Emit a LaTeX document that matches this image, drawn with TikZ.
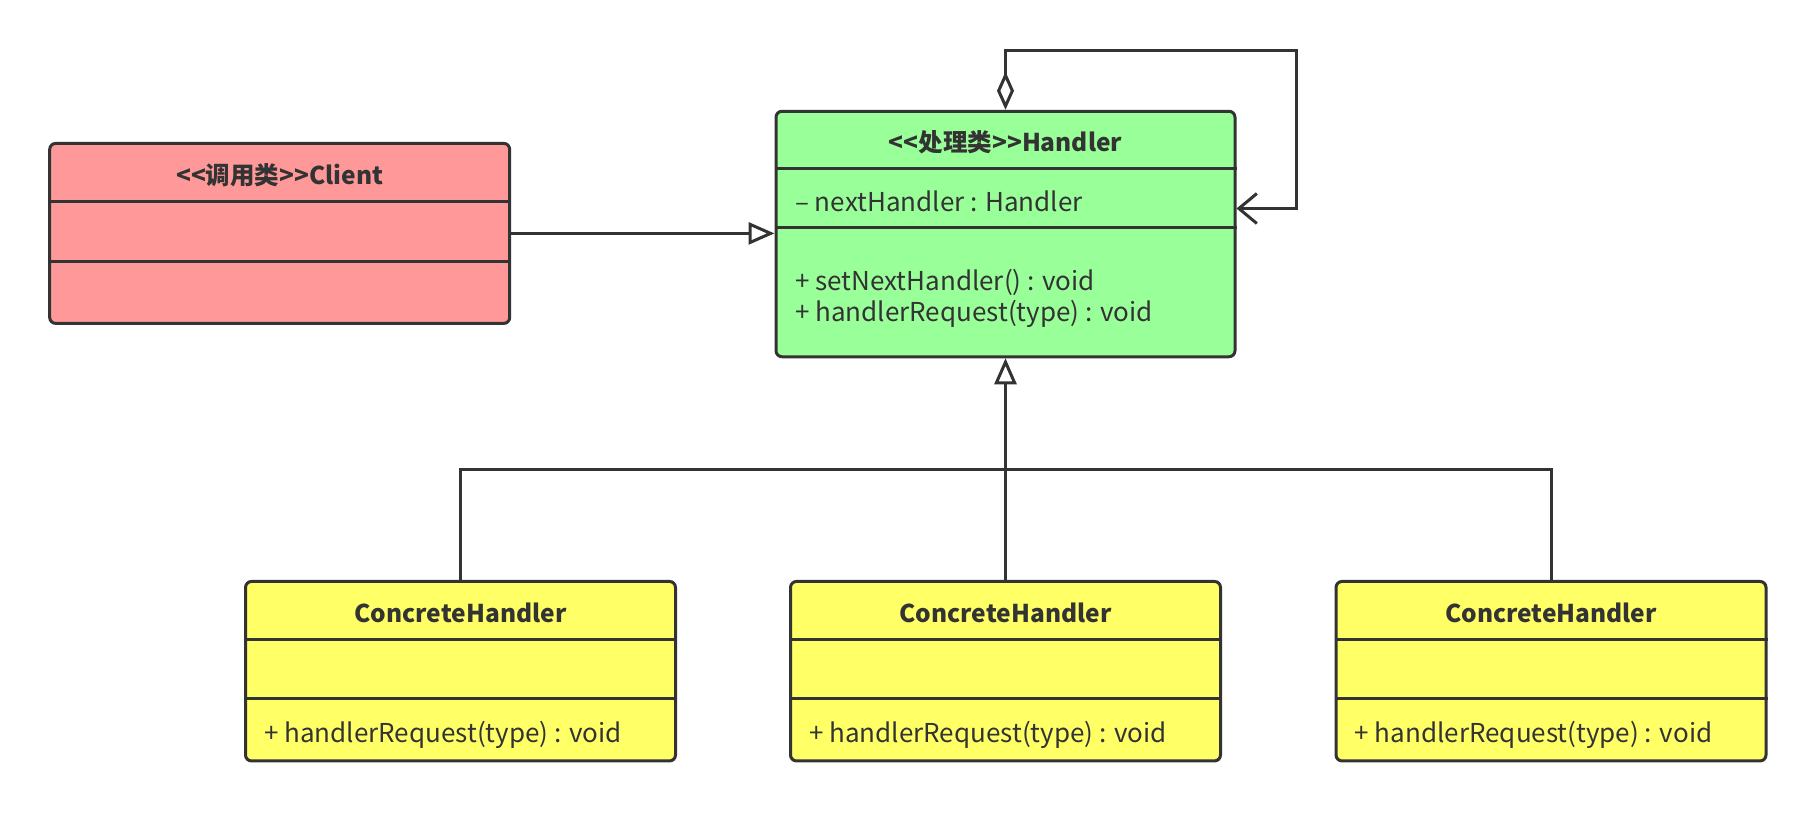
\documentclass[tikz,border=0pt]{standalone}
\usepackage{fontspec}
\setmainfont{Noto Sans CJK SC}
\usetikzlibrary{arrows.meta}
\definecolor{ink}{HTML}{333333}
\definecolor{clientfill}{HTML}{FF9999}
\definecolor{handlerfill}{HTML}{99FF99}
\definecolor{concretefill}{HTML}{FFFF66}
\begin{document}
\begin{tikzpicture}[x=1pt,y=-1pt,
  umlbox/.style={draw=ink, line width=3pt, rounded corners=6pt, inner sep=0pt, rectangle},
  divider/.style={draw=ink, line width=3pt},
  titletext/.style={font=\fontsize{24.5}{29}\selectfont\bfseries, text=ink, inner sep=0pt, anchor=base},
  member/.style={font=\fontsize{26}{31}\selectfont, text=ink, anchor=base west, inner sep=0pt},
  conn/.style={draw=ink, line width=3pt},
  gen/.style={conn, -{Triangle[length=26pt,width=22pt,fill=white]}},
  agg/.style={conn, {Diamond[length=38pt,width=17pt,fill=white]}-{Straight Barb[length=18pt,width=30pt]}}
]
\useasboundingbox (0,0) rectangle (1816,812);

% Client
\node[umlbox, fill=clientfill, minimum width=460pt, minimum height=180pt] (client) at (279.7,233.4) {};
\draw[divider] ([yshift=-60pt]client.north west) -- ([yshift=-60pt]client.north east);
\draw[divider] ([yshift=-120pt]client.north west) -- ([yshift=-120pt]client.north east);
\node[titletext] (clienttitle) at ([yshift=-42.5pt]client.north) {<\kern0pt<调用类>\kern0pt>Client};

% Handler
\node[umlbox, fill=handlerfill, minimum width=459pt, minimum height=245.5pt] (handler) at (1005.5,234) {};
\draw[divider] ([yshift=-59pt]handler.north west) -- ([yshift=-59pt]handler.north east);
\draw[divider] ([yshift=-118pt]handler.north west) -- ([yshift=-118pt]handler.north east);
\node[titletext] (handlertitle) at ([yshift=-41.5pt]handler.north) {<\kern0pt<处理类>\kern0pt>Handler};
\node[member] (hattr) at (795,211.7) {– nextHandler : Handler};
\node[member] (hmeth1) at (795,290) {+ setNextHandler() : void};
\node[member] (hmeth2) at (795,321.7) {+ handlerRequest(type) : void};

% Concrete handlers
\foreach \n/\cx in {c1/460.5, c2/1005.5, c3/1551}{
  \node[umlbox, fill=concretefill, minimum width=430pt, minimum height=179.5pt] (\n) at (\cx,671.2) {};
  \draw[divider] ([yshift=-60pt]\n.north west) -- ([yshift=-60pt]\n.north east);
  \draw[divider] ([yshift=-119pt]\n.north west) -- ([yshift=-119pt]\n.north east);
  \node[titletext] (\n title) at ([yshift=-42.8pt]\n.north) {ConcreteHandler};
  \node[member] (\n meth) at ([xshift=20pt,yshift=-163pt]\n.north west) {+ handlerRequest(type) : void};
}

% Client -> Handler
\draw[gen] (client.east) -- (client.east -| handler.west);

% self aggregation loop
\coordinate (looptl) at (1005.5,50);
\coordinate (looptr) at (1296,50);
\coordinate (loopr) at (1296,208.5);
\draw[agg] (handler.north) -- (looptl) -- (looptr) -- (loopr) -- (loopr -| handler.east);

% inheritance
\coordinate (bus) at (1005.5,469);
\draw[conn] (c1.north) |- (bus) -| (c3.north);
\draw[gen] (c2.north) -- (handler.south);
\end{tikzpicture}
\end{document}
